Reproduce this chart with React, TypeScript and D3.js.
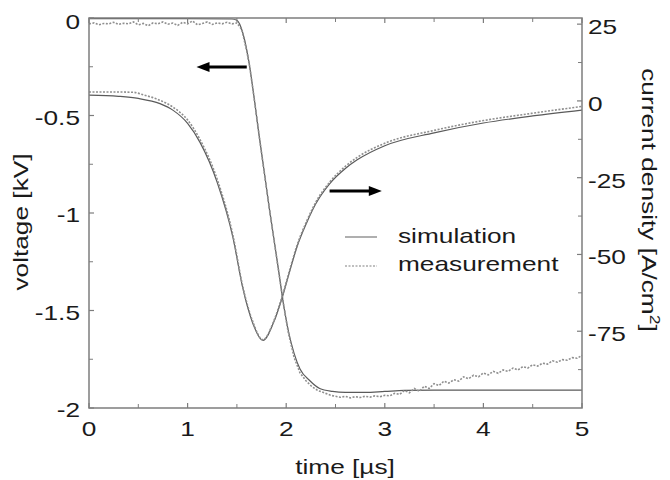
import React from "react";
import * as d3 from "d3";

// ---------- data ----------
const xTicks = [0, 1, 2, 3, 4, 5];
const xMinorTicks = [0.5, 1.5, 2.5, 3.5, 4.5];
const leftTicks = [0, -0.5, -1, -1.5, -2];
const leftTickLabels = ["0", "-0.5", "-1", "-1.5", "-2"];
const leftMinorTicks = [-0.25, -0.75, -1.25, -1.75];
const rightTicks = [25, 0, -25, -50, -75];
const rightTickLabels = ["25", "0", "-25", "-50", "-75"];
const rightMinorTicks = [12.5, -12.5, -37.5, -62.5, -87.5];

const legendLabels = ["simulation", "measurement"];

// simulated voltage [kV]
const simVoltageT = [0, 1.0, 1.45, 1.5, 1.56, 1.63, 1.68, 1.73, 1.78, 1.83, 1.88, 1.93, 1.97, 2.02, 2.08, 2.14, 2.24, 2.34, 2.47, 2.6, 2.8, 3.0, 3.2, 3.5, 4.0, 5.0];
const simVoltageV = [-0.003, -0.003, -0.005, -0.012, -0.077, -0.25, -0.43, -0.62, -0.8, -0.98, -1.15, -1.32, -1.46, -1.6, -1.72, -1.8, -1.86, -1.9, -1.915, -1.92, -1.92, -1.915, -1.91, -1.908, -1.908, -1.908];

// measured voltage [kV]
const measVoltageT = [
  0, 0.05, 0.1, 0.15, 0.2, 0.25, 0.3, 0.35, 0.4, 0.45, 0.5, 0.55, 0.6, 0.65, 0.7, 0.75, 0.8, 0.85, 0.9, 0.95,
  1.0, 1.05, 1.1, 1.15, 1.2, 1.25, 1.3, 1.35, 1.4, 1.45, 1.5,
  1.55, 1.6, 1.63, 1.68, 1.73, 1.78, 1.83, 1.88, 1.93, 1.97, 2.02, 2.08, 2.14, 2.2, 2.26, 2.32, 2.4, 2.45, 2.5,
  2.55, 2.6, 2.65, 2.7, 2.75, 2.8, 2.85, 2.9, 2.95, 3.0, 3.05, 3.1, 3.15, 3.2, 3.25, 3.3, 3.35, 3.4, 3.45, 3.5,
  3.55, 3.6, 3.65, 3.7, 3.75, 3.8, 3.85, 3.9, 3.95, 4.0, 4.05, 4.1, 4.15, 4.2, 4.25, 4.3, 4.35, 4.4, 4.45, 4.5,
  4.55, 4.6, 4.65, 4.7, 4.75, 4.8, 4.85, 4.9, 4.95, 5.0,
];
const measVoltageV = [
  -0.03, -0.025, -0.035, -0.028, -0.03, -0.022, -0.033, -0.027, -0.03, -0.02, -0.035, -0.028, -0.04, -0.025, -0.03, -0.02, -0.032, -0.026, -0.038, -0.022,
  -0.03, -0.015, -0.035, -0.028, -0.02, -0.033, -0.025, -0.03, -0.022, -0.03, -0.025,
  -0.06, -0.17, -0.25, -0.43, -0.62, -0.8, -0.98, -1.15, -1.32, -1.46, -1.61, -1.74, -1.82, -1.86, -1.89, -1.91, -1.925, -1.935, -1.94,
  -1.945, -1.94, -1.948, -1.942, -1.946, -1.94, -1.944, -1.938, -1.942, -1.935, -1.938, -1.925, -1.93, -1.91, -1.922, -1.9, -1.915, -1.888, -1.9, -1.875,
  -1.885, -1.862, -1.872, -1.855, -1.862, -1.84, -1.85, -1.832, -1.84, -1.82, -1.83, -1.812, -1.822, -1.805, -1.812, -1.795, -1.805, -1.788, -1.795, -1.778,
  -1.785, -1.77, -1.775, -1.758, -1.765, -1.752, -1.755, -1.742, -1.745, -1.73,
];

// simulated current density [A/cm2]
const simCurrentT = [0, 0.3, 0.5, 0.72, 0.85, 1.0, 1.126, 1.3, 1.46, 1.56, 1.66, 1.765, 1.87, 1.96, 2.04, 2.11, 2.21, 2.3, 2.44, 2.6, 2.72, 3.0, 3.5, 4.0, 4.5, 5.0];
const simCurrentJ = [1.9, 1.5, 0.8, -0.9, -3.0, -7.3, -13.5, -26.5, -44.5, -61, -72.3, -78, -72.3, -64, -55, -47.5, -39.5, -33.5, -27, -22, -19.2, -14.6, -10.4, -7.2, -4.9, -3.0];

// measured current density [A/cm2]
const measCurrentT = [0, 0.3, 0.45, 0.55, 0.72, 0.85, 1.0, 1.126, 1.3, 1.46, 1.56, 1.66, 1.765, 1.87, 1.96, 2.04, 2.11, 2.21, 2.3, 2.44, 2.6, 2.72, 3.0, 3.5, 4.0, 4.5, 5.0];
const measCurrentJ = [2.9, 2.9, 2.8, 2.0, 0.2, -2.0, -6.2, -12.6, -25.5, -43.8, -60.5, -71.8, -77.8, -72, -63.5, -54.5, -47, -39, -33, -26.5, -21.3, -18.4, -13.8, -9.6, -6.4, -4.0, -1.8];

// ---------- layout ----------
const W = 670;
const H = 480;
const M = { left: 89, right: 582, top: 18, bottom: 408 };
const FONT = "'Liberation Sans', Arial, Helvetica, sans-serif";
const FS = 21;
const SX = 1.25;
const AXIS = "#7d7d7d";
const TXT = "#1a1a1a";

const x = d3.scaleLinear().domain([0, 5]).range([M.left, M.right]);
const yL = d3.scaleLinear().domain([-2, 0]).range([M.bottom, M.top]);
const yR = d3.scaleLinear().domain([-100, 27]).range([M.bottom, M.top]);

function T({ x: tx, y: ty, rot = 0, anchor = "start", children, size = FS }: any) {
  return (
    <text
      transform={`translate(${tx},${ty}) rotate(${rot}) scale(${SX},1)`}
      textAnchor={anchor}
      fontFamily={FONT}
      fontSize={size}
      fill={TXT}
    >
      {children}
    </text>
  );
}

export default function App() {
  const zip = (ts: number[], vs: number[]) => ts.map((t, i) => [t, vs[i]] as [number, number]);

  const lineL = d3.line<[number, number]>().x((d) => x(d[0])).y((d) => yL(d[1]));
  const lineR = d3.line<[number, number]>().x((d) => x(d[0])).y((d) => yR(d[1]));

  const simV = lineL.curve(d3.curveMonotoneX)(zip(simVoltageT, simVoltageV)) || "";
  const measV = lineL.curve(d3.curveLinear)(zip(measVoltageT, measVoltageV)) || "";
  const simJ = lineR.curve(d3.curveMonotoneX)(zip(simCurrentT, simCurrentJ)) || "";
  const measJ = lineR.curve(d3.curveMonotoneX)(zip(measCurrentT, measCurrentJ)) || "";

  // arrows (annotation positions in data units)
  const la = { x0: x(1.6), x1: x(1.09), y: yL(-0.251) };
  const ra = { x0: x(2.44), x1: x(2.97), y: yR(-29.3) };

  const tick = 5;
  const minor = 4;

  return (
    <svg width={W} height={H} style={{ position: "absolute", left: 0, top: 0, background: "#fff" }}>
      <rect x={0} y={0} width={W} height={H} fill="#fff" />

      {/* curves */}
      <path d={simV} fill="none" stroke="#5a5a5a" strokeWidth={1.2} />
      <path d={measV} fill="none" stroke="#8f8f8f" strokeWidth={1.6} strokeDasharray="2,1.5" />
      <path d={simJ} fill="none" stroke="#5a5a5a" strokeWidth={1.2} />
      <path d={measJ} fill="none" stroke="#8f8f8f" strokeWidth={1.6} strokeDasharray="2,1.5" />

      {/* frame */}
      <rect x={M.left} y={M.top} width={M.right - M.left} height={M.bottom - M.top} fill="none" stroke={AXIS} strokeWidth={1.5} />

      {/* x ticks */}
      {xTicks.map((t) => (
        <g key={"xt" + t}>
          <line x1={x(t)} x2={x(t)} y1={M.bottom} y2={M.bottom - tick} stroke={AXIS} strokeWidth={1.2} />
          <line x1={x(t)} x2={x(t)} y1={M.top} y2={M.top + tick} stroke={AXIS} strokeWidth={1.2} />
          <T x={x(t)} y={M.bottom + 28} anchor="middle">{String(t)}</T>
        </g>
      ))}
      {xMinorTicks.map((t) => (
        <g key={"xm" + t}>
          <line x1={x(t)} x2={x(t)} y1={M.bottom} y2={M.bottom - minor} stroke={AXIS} strokeWidth={1} />
          <line x1={x(t)} x2={x(t)} y1={M.top} y2={M.top + minor} stroke={AXIS} strokeWidth={1} />
        </g>
      ))}

      {/* left ticks */}
      {leftTicks.map((v, i) => (
        <g key={"lt" + v}>
          <line x1={M.left} x2={M.left + tick} y1={yL(v)} y2={yL(v)} stroke={AXIS} strokeWidth={1.2} />
          <T x={80} y={Math.max(yL(v) + 9, 29)} anchor="end">{leftTickLabels[i]}</T>
        </g>
      ))}
      {leftMinorTicks.map((v) => (
        <line key={"lm" + v} x1={M.left} x2={M.left + minor} y1={yL(v)} y2={yL(v)} stroke={AXIS} strokeWidth={1} />
      ))}

      {/* right ticks */}
      {rightTicks.map((v, i) => (
        <g key={"rt" + v}>
          <line x1={M.right} x2={M.right - tick} y1={yR(v)} y2={yR(v)} stroke={AXIS} strokeWidth={1.2} />
          <T x={588} y={yR(v) + 10} anchor="start">{rightTickLabels[i]}</T>
        </g>
      ))}
      {rightMinorTicks.map((v) => (
        <line key={"rm" + v} x1={M.right} x2={M.right - minor} y1={yR(v)} y2={yR(v)} stroke={AXIS} strokeWidth={1} />
      ))}

      {/* axis titles */}
      <T x={345} y={474} anchor="middle">time [µs]</T>
      <T x={28} y={222} rot={-90} anchor="middle">voltage [kV]</T>
      <text
        transform={`translate(642,200) rotate(90) scale(${SX},1)`}
        textAnchor="middle"
        fontFamily={FONT}
        fontSize={FS}
        fill={TXT}
      >
        current density [A/cm
        <tspan fontSize={14} dy={-8}>2</tspan>
        <tspan dy={8}>]</tspan>
      </text>

      {/* arrows */}
      <line x1={la.x0} x2={la.x1 + 10} y1={la.y} y2={la.y} stroke="#000" strokeWidth={3} />
      <path d={`M${la.x1},${la.y} L${la.x1 + 13},${la.y - 5} L${la.x1 + 13},${la.y + 5} Z`} fill="#000" />
      <line x1={ra.x0} x2={ra.x1 - 10} y1={ra.y} y2={ra.y} stroke="#000" strokeWidth={3} />
      <path d={`M${ra.x1},${ra.y} L${ra.x1 - 13},${ra.y - 5} L${ra.x1 - 13},${ra.y + 5} Z`} fill="#000" />

      {/* legend */}
      <line x1={345} x2={377} y1={237} y2={237} stroke="#7a7a7a" strokeWidth={1.2} />
      <T x={398} y={243}>{legendLabels[0]}</T>
      <line x1={345} x2={377} y1={266} y2={266} stroke="#aaaaaa" strokeWidth={1.6} strokeDasharray="2,1.5" />
      <T x={398} y={271}>{legendLabels[1]}</T>
    </svg>
  );
}
